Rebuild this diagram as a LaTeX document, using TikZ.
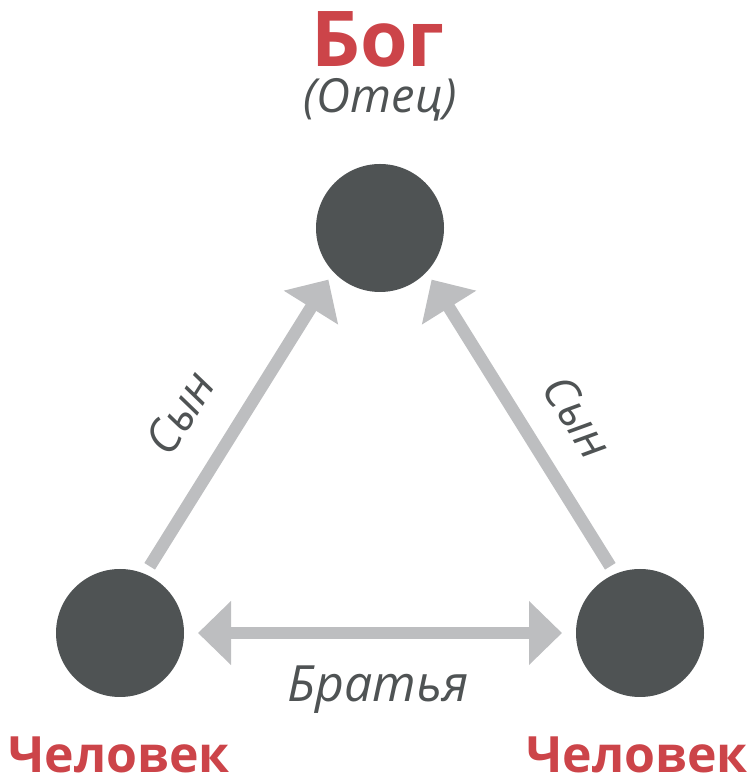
\documentclass[tikz,border=0pt]{standalone}
\usepackage{fontspec}
\setmainfont{Open Sans}
\usetikzlibrary{arrows.meta}

\definecolor{dotgray}{HTML}{4F5354}
\definecolor{arrowgray}{HTML}{BDBEC0}
\definecolor{godred}{HTML}{CC4449}

\begin{document}
\begin{tikzpicture}[x=1pt, y=1pt,
  person/.style={circle, fill=dotgray, minimum size=128pt, inner sep=0pt, outer sep=9pt},
  link/.style={draw=arrowgray, line width=12.5pt, -{Triangle[length=33pt, width=62pt]}},
  title/.style={text=godred, inner sep=0pt, anchor=base},
  tag/.style={text=dotgray, inner sep=1pt}]
\useasboundingbox (0, 0) rectangle (753, 776);

\node[person] (god) at (380, 548) {};
\node[person] (manl) at (120, 143) {};
\node[person] (manr) at (640, 143) {};

% Draw the arrows.
\draw[link] (manl.66) -- (god.225);
\draw[link] (manr.114) -- (god.315);
\draw[link, {Triangle[length=33pt, width=62pt]}-{Triangle[length=33pt, width=62pt]}, shorten <=5pt, shorten >=5pt] (manl.east) -- (manr.west);

% Labels.
\node[title, font=\fontsize{77}{80}\selectfont\bfseries] (godtext) at (378, 709) {Бог};
\node[tag, font=\fontsize{47}{50}\selectfont\itshape] (father) at (380, 676) {(Отец)};
\node[title, font=\fontsize{50}{52}\selectfont\bfseries] (mantextl) at (119, 4) {Человек};
\node[title, font=\fontsize{50}{52}\selectfont\bfseries] (mantextr) at (637, 4) {Человек};
\node[tag, font=\fontsize{50}{52}\selectfont\itshape, anchor=base] (brothers) at (378, 74) {Братья};
\node[tag, font=\fontsize{46}{48}\selectfont\itshape, rotate=58] (sonl) at (180, 363) {Сын};
\node[tag, font=\fontsize{46}{48}\selectfont\itshape, rotate=-58] (sonr) at (578, 359) {Сын};

\end{tikzpicture}
\end{document}
